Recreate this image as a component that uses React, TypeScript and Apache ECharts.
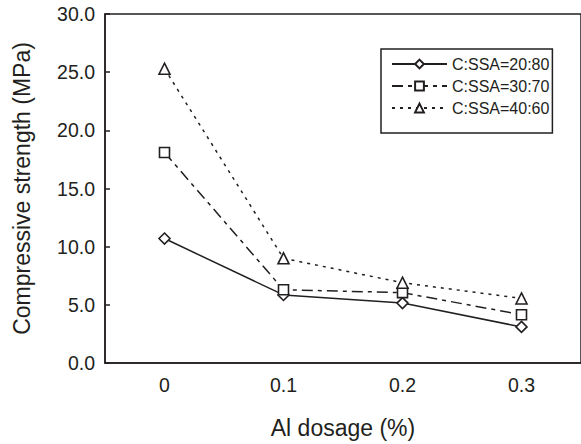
import React, { useEffect, useRef } from "react";
import * as echarts from "echarts";

const categories = ["0", "0.1", "0.2", "0.3"];
const seriesNames = ["C:SSA=20:80", "C:SSA=30:70", "C:SSA=40:60"];
const s2080 = [10.7, 5.85, 5.15, 3.1];
const s3070 = [18.1, 6.3, 6.05, 4.15];
const s4060 = [25.3, 9.0, 6.9, 5.55];
const yTicks = [0, 5, 10, 15, 20, 25, 30];

const INK = "#231f20";
const FONT = "'Liberation Sans', Arial, Helvetica, sans-serif";

export default function App() {
  const ref = useRef<HTMLDivElement>(null);
  useEffect(() => {
    if (!ref.current) return;
    const chart = echarts.init(ref.current, undefined, { renderer: "svg" });
    const mk = (name: string, data: number[], symbol: string, size: number, type: any) => ({
      name,
      type: "line",
      data,
      symbol,
      symbolSize: size,
      showSymbol: true,
      lineStyle: { color: INK, width: 1.5, type },
      itemStyle: { color: "#fff", borderColor: INK, borderWidth: 1.6 },
      z: 3,
    });
    chart.setOption({
      animation: false,
      backgroundColor: "#fff",
      textStyle: { fontFamily: FONT, color: INK },
      grid: {
        left: 105,
        top: 14,
        width: 480,
        height: 352,
        show: true,
        borderColor: INK,
        borderWidth: 1.5,
        backgroundColor: "transparent",
      },
      legend: {
        orient: "vertical",
        left: 381,
        top: 49,
        backgroundColor: "#fff",
        borderColor: INK,
        borderWidth: 1.5,
        borderRadius: 0,
        padding: [7, 3, 17, 10],
        itemWidth: 55,
        itemHeight: 11,
        itemGap: 6,
        textStyle: { fontSize: 16, color: INK, fontFamily: FONT },
        data: seriesNames,
      },
      xAxis: {
        type: "category",
        data: categories,
        name: "Al dosage (%)",
        nameLocation: "middle",
        nameGap: 53,
        nameTextStyle: { fontSize: 23, color: INK, fontFamily: FONT },
        axisLine: { lineStyle: { color: INK, width: 1.5 } },
        axisTick: { inside: true, length: 6, lineStyle: { color: INK, width: 1.5 } },
        axisLabel: { fontSize: 19.5, color: INK, margin: 12, fontFamily: FONT },
        splitLine: { show: false },
      },
      yAxis: {
        type: "value",
        min: yTicks[0],
        max: yTicks[yTicks.length - 1],
        interval: 5,
        name: "Compressive strength (MPa)",
        nameLocation: "middle",
        nameGap: 72,
        nameTextStyle: { fontSize: 23, color: INK, fontFamily: FONT },
        axisLine: { show: true, lineStyle: { color: INK, width: 1.5 } },
        axisTick: { show: true, inside: true, length: 5, lineStyle: { color: INK, width: 1.5 } },
        axisLabel: {
          fontSize: 19.5,
          color: INK,
          margin: 10,
          fontFamily: FONT,
          formatter: (v: number) => v.toFixed(1),
        },
        splitLine: { show: false },
      },
      series: [
        mk(seriesNames[0], s2080, "diamond", 11, "solid"),
        mk(seriesNames[1], s3070, "rect", 10, [11, 5, 4, 5]),
        mk(seriesNames[2], s4060, "triangle", 11, [3, 5]),
      ],
    });
    return () => chart.dispose();
  }, []);
  return (
    <div style={{ position: "fixed", left: 0, top: 0, width: 581, height: 444, overflow: "hidden", background: "#fff" }}>
      <div ref={ref} style={{ width: 581, height: 444 }} />
    </div>
  );
}
